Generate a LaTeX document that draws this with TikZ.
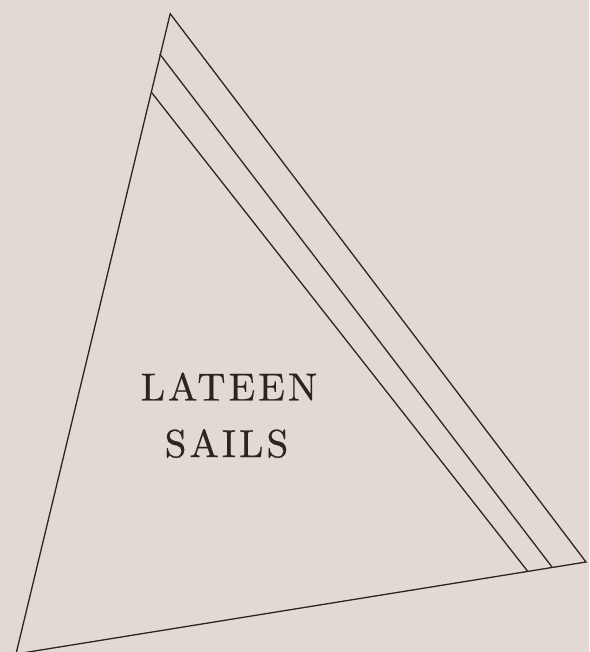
\documentclass[tikz,border=0pt]{standalone}
\usepackage{fontspec}
\usepackage{tikz}
\usetikzlibrary{positioning, calc}
\definecolor{paperbg}{HTML}{E3D9D4}
\definecolor{inkdark}{HTML}{2B2522}
\newfontfamily\capfont{lmroman10-regular}[Extension=.otf, LetterSpace=8, FakeBold=0.6]

\begin{document}
\begin{tikzpicture}[
    x=1pt, y=-1pt,
    sailedge/.style={draw=inkdark, line width=1.3pt, line join=miter},
    stripe/.style={draw=inkdark, line width=1.3pt},
    caption/.style={text=inkdark, inner sep=0pt,
        font=\capfont\fontsize{39}{39}\selectfont},
]

% Paper
\fill[paperbg] (0,0) rectangle (589,652);
\useasboundingbox (0,0) rectangle (589,652);

% Corners of the sail
\coordinate (apex) at (170.2,13.7);
\coordinate (tack) at (16,654);
\coordinate (clew) at (586,562);

% Stripe starts on the luff, ends on the foot
\coordinate (s1top) at (159.7,54);
\coordinate (s2top) at (151.4,92.3);
\coordinate (s1bot) at (552,567);
\coordinate (s2bot) at (527.8,571.4);

% Sail outline
\draw[sailedge] (apex) -- (tack) -- (clew) -- cycle;

% Stripes along the leech
\draw[stripe] (s1top) -- (s1bot);
\draw[stripe] (s2top) -- (s2bot);

% Label
\node[caption] (lateen) at (229,386.5) {LATEEN};
\node[caption] (sails) at (226.5,443.5) {SAILS};

\end{tikzpicture}
\end{document}
